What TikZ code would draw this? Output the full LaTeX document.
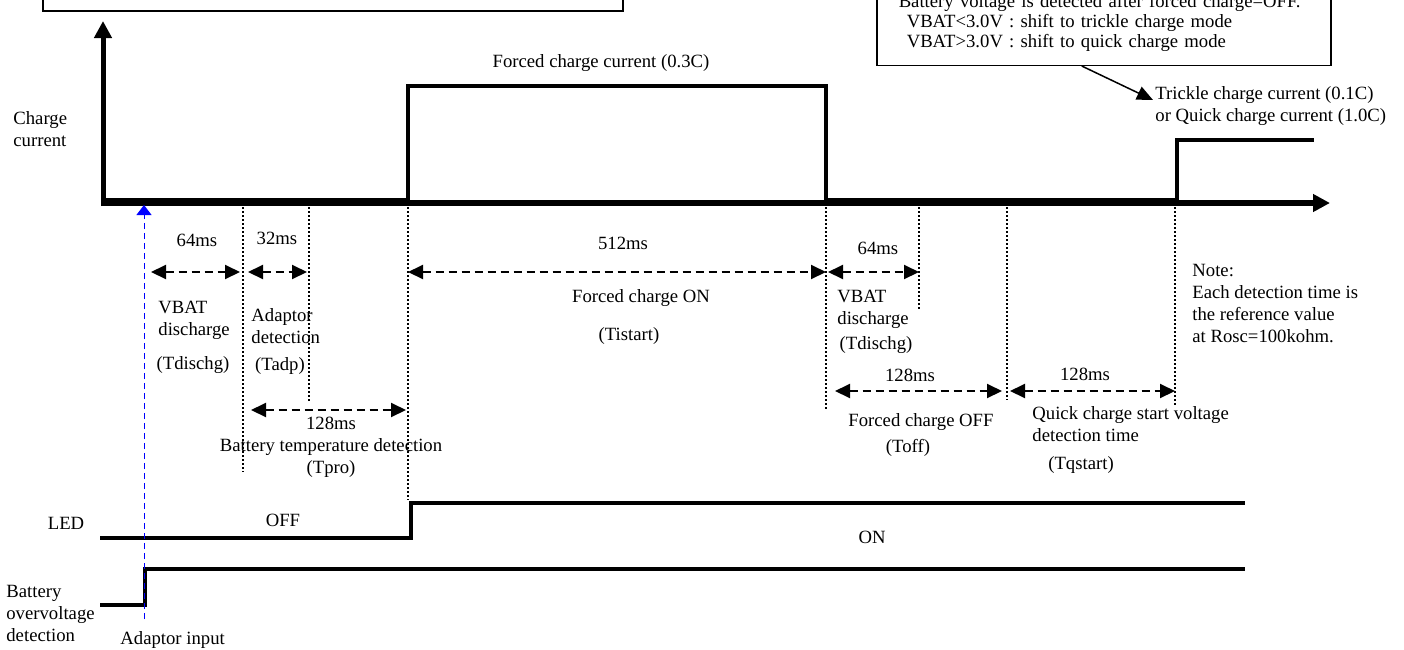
\documentclass[tikz,border=0pt]{standalone}
\usepackage{fontspec}
\setmainfont{Liberation Serif}
\usetikzlibrary{arrows.meta, positioning, calc}

\begin{document}
\begin{tikzpicture}[x=0.5pt, y=-0.5pt,
    every node/.style={font=\fontsize{9.35}{11}\selectfont, inner sep=0pt},
    signal/.style={line width=2pt},
    guide/.style={line width=0.75pt, dash pattern=on 1pt off 1pt},
    dimarrow/.style={line width=1pt, dash pattern=on 4pt off 2.5pt,
        {Triangle[length=7.5pt, width=7pt]}-{Triangle[length=7.5pt, width=7pt]}}]
    \useasboundingbox (0,0) rectangle (1404,649);

    % time marks on the axis and rows of the time spans
    \coordinate (tin) at (144,203);
    \coordinate (tdis) at (243,203);
    \coordinate (tadp) at (309,203);
    \coordinate (tfon) at (408,203);
    \coordinate (tfoff) at (826,203);
    \coordinate (tdis2) at (919,203);
    \coordinate (toff) at (1007,203);
    \coordinate (tq) at (1175,203);
    \coordinate (row1) at (0,272);
    \coordinate (row2) at (0,410);
    \coordinate (row3) at (0,391);

    % boxes at the top
    \draw[line width=0.75pt] (43,-30) rectangle (623,11);
    \node[draw, line width=0.75pt, anchor=south west, align=left, text width=205pt, inner xsep=11pt, inner ysep=7pt,
        font=\fontsize{9.35}{10}\selectfont] (vbatbox) at (876,66)
        {Battery voltage is detected after forced charge=OFF.\\\hspace*{4pt}VBAT<3.0V : shift to trickle charge mode\\\hspace*{4pt}VBAT>3.0V : shift to quick charge mode};
    \node[anchor=west, align=left] (trickle) at (1155,106) {Trickle charge current (0.1C)\\or Quick charge current (1.0C)};
    \draw[line width=0.75pt, -{Triangle[length=8pt, width=7pt]}] ([xshift=-11pt]vbatbox.south) -- ([xshift=-1pt, yshift=3pt]trickle.west);

    % charge current
    \node[anchor=west, align=left] (chg) at (13,129) {Charge\\current};
    \node (fcc) at (601,63) {Forced charge current (0.3C)};
    \draw[line width=2.5pt, -{Triangle[length=8.5pt, width=8.5pt]}] (103,206) -- (103,21);
    \draw[line width=3pt, -{Triangle[length=8.5pt, width=8.5pt]}] (101,203) -- (1330,203);
    \draw[line width=2.25pt] (103,200) -- (408,200) -- (408,86) -- (826,86) -- (826,200) -- (1177,200) -- (1177,140) -- (1314,140);

    % dotted guides
    \foreach \m/\len in {tdis/472, tadp/403, tfon/500, tfoff/410, tdis2/310, toff/400, tq/407}
        \draw[guide] (\m) ++(0,4) -- (\m |- 0,\len);

    % time spans
    \draw[dimarrow, shorten <=3.5pt, shorten >=1.5pt] (tin |- row1) -- (tdis |- row1);
    \draw[dimarrow, shorten <=2.5pt, shorten >=1pt] (tdis |- row1) -- (tadp |- row1);
    \draw[dimarrow] (tfon |- row1) -- (tfoff |- row1);
    \draw[dimarrow, shorten <=1pt] (tfoff |- row1) -- (tdis2 |- row1);
    \draw[dimarrow, shorten <=4pt, shorten >=1pt] (tdis |- row2) -- (tfon |- row2);
    \draw[dimarrow, shorten <=4.5pt, shorten >=2.5pt] (tfoff |- row3) -- (toff |- row3);
    \draw[dimarrow, shorten <=1.5pt] (toff |- row3) -- (tq |- row3);

    \node (dis1) at (197,240) {64ms};
    \node[anchor=west, align=left] (vbat1) at (158,320) {VBAT\\discharge};
    \node (tdischg1) at (193,365) {(Tdischg)};
    \node (adp) at (277,238) {32ms};
    \node[anchor=west, align=left] (adpdet) at (251,326) {Adaptor\\detection};
    \node (tadpl) at (280,366) {(Tadp)};
    \node[align=center] (tpro) at (331,447) {128ms\\Battery temperature detection\\(Tpro)};
    \node (fon) at (623,243) {512ms};
    \node (fonl) at (641,298) {Forced charge ON};
    \node (tistart) at (629,336) {(Tistart)};
    \node (dis2) at (878,248) {64ms};
    \node[anchor=west, align=left] (vbat2) at (837,309) {VBAT\\discharge};
    \node (tdischg2) at (876,345) {(Tdischg)};
    \node (offms) at (910,375) {128ms};
    \node (offl) at (921,422) {Forced charge OFF};
    \node (toffl) at (908,448) {(Toff)};
    \node (qms) at (1085,374) {128ms};
    \node[anchor=west, align=left] (ql) at (1032,424) {Quick charge start voltage\\detection time};
    \node (tqstart) at (1081,465) {(Tqstart)};
    \node[anchor=west, align=left] (note) at (1192,304) {Note:\\Each detection time is\\the reference value\\at Rosc=100kohm.};

    % LED
    \node (led) at (66,523) {LED};
    \node (ledoff) at (283,520) {OFF};
    \node (ledon) at (872,537) {ON};
    \draw[signal] (100,538) -- (411,538) -- (411,503) -- (1245,503);

    % battery overvoltage detection
    \node[anchor=west, align=left] (ovd) at (6,613) {Battery\\overvoltage\\detection};
    \node[anchor=west] (adpin) at (120,640) {Adaptor input};
    \draw[signal] (100,605) -- (145,605) -- (145,569) -- (1245,569);
    \draw[blue, line width=0.5pt, dash pattern=on 3pt off 2pt, -{Triangle[length=5pt, width=7.5pt]}]
        ($(tin |- adpin.north)+(0,-12)$) -- ([yshift=-1pt]tin);
\end{tikzpicture}
\end{document}
